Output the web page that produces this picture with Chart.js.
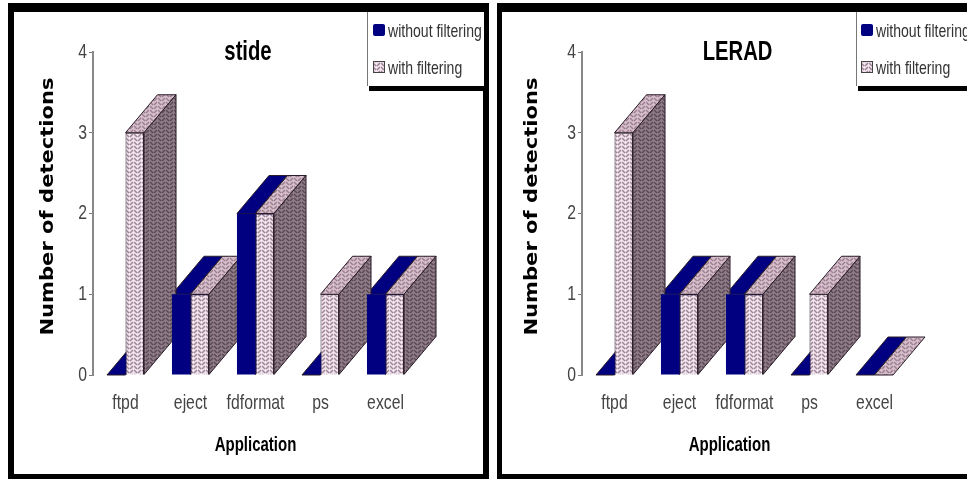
<!DOCTYPE html>
<html>
<head>
<meta charset="utf-8">
<script src="https://cdn.jsdelivr.net/npm/chart.js@4"></script>
<style>
    html, body { margin: 0; background: #fff; overflow: hidden; }
    body { position: relative; width: 967px; height: 479px; }
    .frame { position: absolute; background: #000; }
    canvas.chart { position: absolute; top: 12px; }
    .legend { position: absolute; top: 12px; height: 74px; background: #fff; border-left: 1px solid #777;
        box-shadow: 2px 5px 0 #000; overflow: hidden; font: 19px "Liberation Sans", sans-serif; color: #333; }
    .legend div { position: absolute; white-space: nowrap; line-height: 20px; }
    .legend i { position: absolute; left: 0; top: 3px; width: 12px; height: 12px; }
    .legend span { position: absolute; left: 15px; top: 0; transform: scaleX(0.74); transform-origin: 0 50%; }
</style>
</head>
<body>
<div class="frame" style="left:8px;top:3px;width:481px;height:9px"></div>
<div class="frame" style="left:8px;top:3px;width:6px;height:476px"></div>
<div class="frame" style="left:483px;top:3px;width:6px;height:476px"></div>
<div class="frame" style="left:8px;top:474px;width:481px;height:5px"></div>
<div class="frame" style="left:497px;top:3px;width:470px;height:9px"></div>
<div class="frame" style="left:497px;top:3px;width:5px;height:476px"></div>
<div class="frame" style="left:497px;top:474px;width:470px;height:5px"></div>

<canvas class="chart" id="stide" width="469" height="462" style="left:14px"></canvas>
<canvas class="chart" id="lerad" width="465" height="462" style="left:502px"></canvas>

<div class="legend" id="legendStide" style="left:367px;width:116px"></div>
<div class="legend" id="legendLerad" style="left:856px;width:111px"></div>

<script>
const categories = ["ftpd", "eject", "fdformat", "ps", "excel"];
const seriesNames = ["without filtering", "with filtering"];
const stideWithout = [0, 1, 2, 0, 1];
const stideWith = [3, 1, 2, 1, 1];
const leradWithout = [0, 1, 1, 0, 0];
const leradWith = [3, 1, 1, 1, 0];

const NAVY = "#000080";
const NAVY_DARK = "#00006a";
const DEPTH_X = 32;
const DEPTH_Y = -38;
const NARROW = "'Liberation Sans', sans-serif";
const WIDE = "'DejaVu Sans', sans-serif";

// small herringbone tile, used for the three faces of the hatched bars
function herringboneTile(bg, line) {
    const tile = document.createElement("canvas");
    tile.width = 8;
    tile.height = 8;
    const ctx = tile.getContext("2d");
    ctx.fillStyle = bg;
    ctx.fillRect(0, 0, 8, 8);
    ctx.strokeStyle = line;
    ctx.lineWidth = 1.5;
    for (let y = -8; y <= 8; y += 4) {
        ctx.beginPath();
        ctx.moveTo(0, y + 2);
        ctx.lineTo(3, y + 5);
        ctx.moveTo(4, y + 5);
        ctx.lineTo(7, y + 2);
        ctx.stroke();
    }
    return tile;
}

const pageCtx = document.createElement("canvas").getContext("2d");
const frontTile = herringboneTile("#f2e6ee", "#9f8597");
const frontFill = pageCtx.createPattern(frontTile, "repeat");
const topFill = pageCtx.createPattern(herringboneTile("#d8bfcc", "#9c8092"), "repeat");
const sideFill = pageCtx.createPattern(herringboneTile("#8f7c88", "#5a4b55"), "repeat");

function face(ctx, points, fill) {
    ctx.beginPath();
    points.forEach(([x, y], i) => (i ? ctx.lineTo(x, y) : ctx.moveTo(x, y)));
    ctx.closePath();
    ctx.fillStyle = fill;
    ctx.fill();
    ctx.strokeStyle = "#2a1c28";
    ctx.lineWidth = 1;
    ctx.stroke();
}

// the picture's text is squeezed or stretched sideways, canvas fonts can't do that alone
const textStretchPlugin = {
    id: "textStretch",
    beforeInit(chart) {
        const ctx = chart.ctx;
        const fillText = ctx.fillText;
        ctx.fillText = function (text, x, y) {
            const k = this.font.includes("DejaVu") ? 1.17 : 0.75;
            this.save();
            this.translate(x, y);
            this.scale(k, 1);
            fillText.call(this, text, 0, 0);
            this.restore();
        };
    },
};

// Chart.js has no 3D bars, so top and side faces are added behind the fronts
const depthPlugin = {
    id: "depth",
    beforeDatasetsDraw(chart) {
        const ctx = chart.ctx;
        chart.data.datasets.forEach((dataset, index) => {
            const solid = index === 0;
            chart.getDatasetMeta(index).data.forEach((bar) => {
                const left = bar.x - bar.width / 2;
                const right = bar.x + bar.width / 2;
                face(ctx, [[left, bar.y], [right, bar.y], [right + DEPTH_X, bar.y + DEPTH_Y], [left + DEPTH_X, bar.y + DEPTH_Y]],
                    solid ? NAVY : topFill);
                if (bar.base > bar.y) {
                    face(ctx, [[right, bar.y], [right + DEPTH_X, bar.y + DEPTH_Y], [right + DEPTH_X, bar.base + DEPTH_Y], [right, bar.base]],
                        solid ? NAVY_DARK : sideFill);
                }
            });
        });
    },
};

function shiftDraw(chart, box, method, dx, dy) {
    const draw = box[method];
    box[method] = function (...args) {
        chart.ctx.save();
        chart.ctx.translate(dx, dy);
        draw.apply(this, args);
        chart.ctx.restore();
    };
}

function makeChart(id, title, without, withF, opts) {
    const chart = new Chart(document.getElementById(id), {
        type: "bar",
        plugins: [textStretchPlugin, depthPlugin],
        data: {
            labels: categories,
            datasets: [
                { label: seriesNames[0], data: without, backgroundColor: NAVY, borderColor: NAVY, borderWidth: 0 },
                { label: seriesNames[1], data: withF, backgroundColor: frontFill, borderColor: "#2a1c28", borderWidth: 1 },
            ],
        },
        options: {
            responsive: false,
            animation: false,
            layout: { padding: { right: opts.paddingRight } },
            categoryPercentage: 0.57,
            barPercentage: 1,
            plugins: {
                legend: { display: false },
                tooltip: { enabled: false },
                title: {
                    display: true,
                    text: title,
                    color: "#000",
                    font: { family: NARROW, size: 27, weight: "bold", lineHeight: 1.2 },
                    padding: { top: 24, bottom: -16.4 },
                },
            },
            scales: {
                x: {
                    grid: { display: false },
                    border: { display: false },
                    ticks: { color: "#444", padding: 8, maxRotation: 0, minRotation: 0, autoSkip: false, font: { family: NARROW, size: 21 } },
                    title: {
                        display: true,
                        text: "Application",
                        color: "#000",
                        font: { family: NARROW, size: 20, weight: "bold" },
                        padding: { bottom: 17 },
                    },
                    afterFit(scale) { scale.height = 99; },
                },
                y: {
                    min: 0,
                    max: 4,
                    grid: { drawOnChartArea: false, tickLength: 4, tickColor: "#777" },
                    border: { color: "#888", width: 2 },
                    ticks: { stepSize: 1, color: "#444", padding: 2, font: { family: NARROW, size: 21 } },
                    title: {
                        display: true,
                        text: "Number of detections",
                        color: "#000",
                        font: { family: WIDE, size: 18, weight: "bold" },
                        padding: { top: opts.yTitlePad },
                    },
                    afterFit(scale) { scale.width = opts.axisWidth; },
                },
            },
        },
    });
    // titles sit off the plot centre in the picture
    shiftDraw(chart, chart.titleBlock, "draw", opts.titleShift, 0);
    shiftDraw(chart, chart.scales.x, "drawTitle", opts.xTitleShift, 0);
    shiftDraw(chart, chart.scales.y, "drawTitle", 0, -7);
    chart.draw();
    return chart;
}

function fillLegend(id, left) {
    const box = document.getElementById(id);
    seriesNames.forEach((name, i) => {
        const row = document.createElement("div");
        row.style.left = left + "px";
        row.style.top = (i ? 46 : 9) + "px";
        const swatch = document.createElement("i");
        if (i === 0) {
            swatch.style.background = NAVY;
            swatch.style.borderRadius = "2px";
        } else {
            swatch.style.background = `url(${frontTile.toDataURL()})`;
            swatch.style.outline = "1px solid #444";
            swatch.style.outlineOffset = "-1px";
        }
        const label = document.createElement("span");
        label.textContent = name;
        row.appendChild(swatch);
        row.appendChild(label);
        box.appendChild(row);
    });
}

makeChart("stide", "stide", stideWithout, stideWith, { paddingRight: 65, axisWidth: 79, yTitlePad: 24, titleShift: 32, xTitleShift: 0 });
makeChart("lerad", "LERAD", leradWithout, leradWith, { paddingRight: 60, axisWidth: 80, yTitlePad: 20, titleShift: 33, xTitleShift: -15 });
fillLegend("legendStide", 5);
fillLegend("legendLerad", 4);
</script>
</body>
</html>
